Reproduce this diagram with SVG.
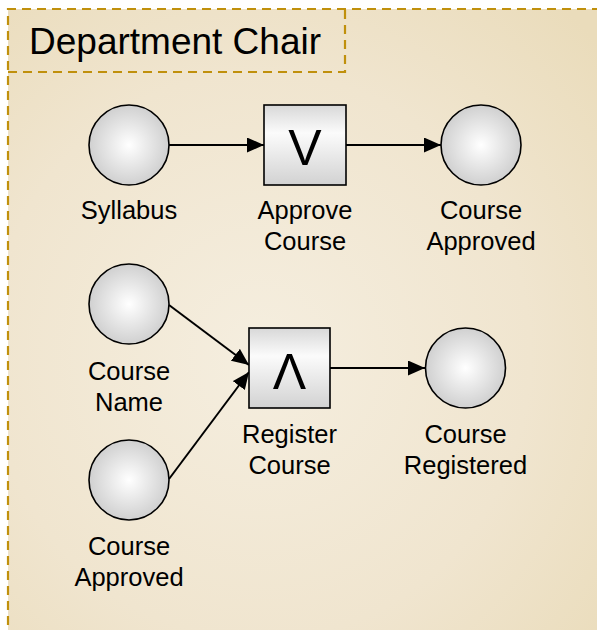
<svg xmlns="http://www.w3.org/2000/svg" width="597" height="630" viewBox="0 0 597 630">
  <defs>
    <radialGradient id="panelFill" cx="0.42" cy="0.55" r="0.75">
      <stop offset="0" stop-color="#F5EEDF"/>
      <stop offset="0.6" stop-color="#F0E5CF"/>
      <stop offset="1" stop-color="#EADCBB"/>
    </radialGradient>
    <radialGradient id="placeFill" cx="0.5" cy="0.5" r="0.5">
      <stop offset="0" stop-color="#FFFFFF"/>
      <stop offset="1" stop-color="#D0D0D0"/>
    </radialGradient>
    <linearGradient id="boxFill" x1="0" y1="0" x2="0" y2="1">
      <stop offset="0" stop-color="#D8D8D8"/>
      <stop offset="0.35" stop-color="#FBFBFB"/>
      <stop offset="1" stop-color="#D2D2D2"/>
    </linearGradient>
    <marker id="arrow" markerUnits="userSpaceOnUse" markerWidth="19" markerHeight="16" refX="17" refY="7.5" orient="auto">
      <path d="M0,0 L17,7.5 L0,15 Z" fill="#000"/>
    </marker>
  </defs>
  <style>
    .lane { fill: url(#panelFill); }
    .dash { fill: none; stroke: #C0900C; stroke-width: 2.2; stroke-dasharray: 9 6; }
    .place { fill: url(#placeFill); stroke: #000; stroke-width: 1.6; }
    .gate { fill: url(#boxFill); stroke: #000; stroke-width: 1.6; }
    .label { font-family: "Liberation Sans", Arial, sans-serif; font-size: 25.5px; fill: #000; text-anchor: middle; }
    .sym { font-family: "Liberation Sans", Arial, sans-serif; font-size: 50px; fill: #000; text-anchor: middle; }
    .title { font-family: "Liberation Sans", Arial, sans-serif; font-size: 37px; fill: #000; }
    .edge { fill: none; stroke: #000; stroke-width: 2; marker-end: url(#arrow); }
  </style>

  <rect width="597" height="630" fill="#FFFFFF"/>

  <!-- swimlane -->
  <g id="lane">
    <rect class="lane" x="8" y="9" width="600" height="630"/>
    <path class="dash" d="M8,640 L8,9 L600,9"/>
    <path class="dash" d="M8,72 L345,72 L345,9"/>
    <text class="title" x="29" y="54">Department Chair</text>
  </g>

  <!-- connectors -->
  <g id="connectors">
    <line class="edge" x1="169" y1="145" x2="264" y2="145"/>
    <line class="edge" x1="346" y1="145" x2="441" y2="145"/>
    <line class="edge" x1="169" y1="305" x2="249" y2="365"/>
    <line class="edge" x1="169" y1="479" x2="249" y2="372"/>
    <line class="edge" x1="330" y1="368" x2="425" y2="368"/>
  </g>

  <g id="syllabus">
    <circle class="place" cx="129" cy="145" r="40"/>
    <text class="label" x="129" y="219">Syllabus</text>
  </g>

  <g id="approve-course">
    <rect class="gate" x="264" y="105" width="82" height="80"/>
    <text class="sym" x="305" y="165">V</text>
    <text class="label" x="305" y="219">Approve</text>
    <text class="label" x="305" y="250">Course</text>
  </g>

  <g id="course-approved-out">
    <circle class="place" cx="481" cy="145" r="40"/>
    <text class="label" x="481" y="219">Course</text>
    <text class="label" x="481" y="250">Approved</text>
  </g>

  <g id="course-name">
    <circle class="place" cx="129" cy="304" r="40"/>
    <text class="label" x="129" y="380">Course</text>
    <text class="label" x="129" y="411">Name</text>
  </g>

  <g id="course-approved-in">
    <circle class="place" cx="129" cy="480" r="40"/>
    <text class="label" x="129" y="555">Course</text>
    <text class="label" x="129" y="586">Approved</text>
  </g>

  <g id="register-course">
    <rect class="gate" x="249" y="328" width="81" height="80"/>
    <text class="sym" x="289.5" y="389">Λ</text>
    <text class="label" x="289.5" y="443">Register</text>
    <text class="label" x="289.5" y="474">Course</text>
  </g>

  <g id="course-registered">
    <circle class="place" cx="465.5" cy="368" r="40"/>
    <text class="label" x="465.5" y="443">Course</text>
    <text class="label" x="465.5" y="474">Registered</text>
  </g>
</svg>
